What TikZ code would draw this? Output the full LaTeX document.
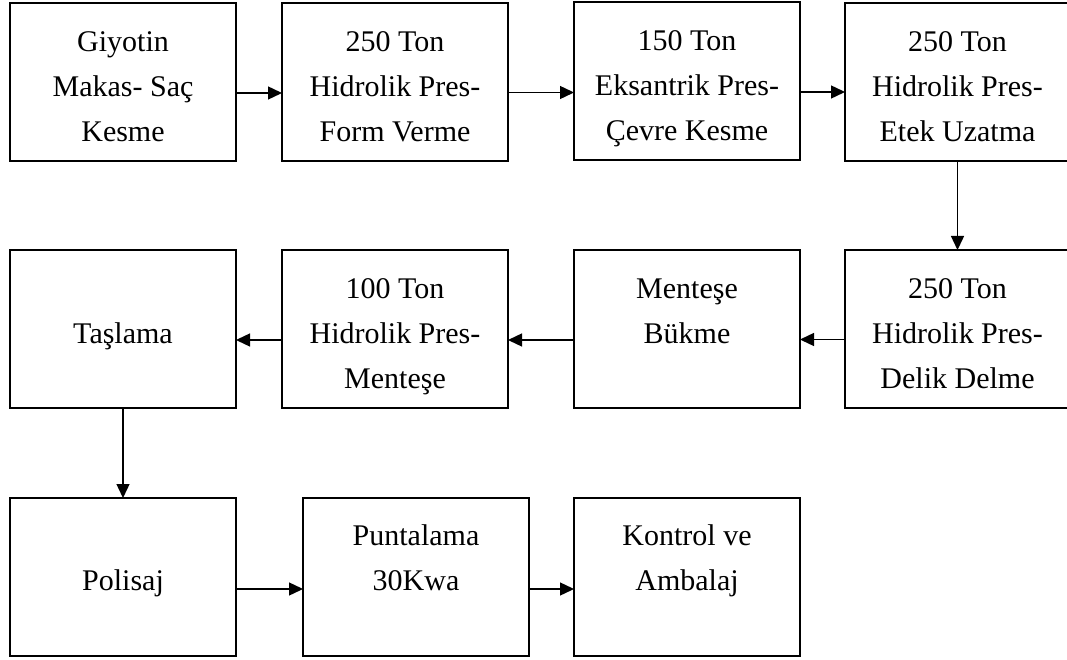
\documentclass[tikz,border=0pt]{standalone}
\usepackage{fontspec}
\setmainfont{Liberation Serif}
\usetikzlibrary{arrows.meta}

\tikzset{
  stage/.style={draw, line width=1.8pt, inner sep=0pt, outer sep=0pt,
    anchor=north west, minimum width=#1, minimum height=158pt},
  stage/.default=226pt,
  lbl/.style={align=center, inner sep=0pt, outer sep=0pt, anchor=north,
    font=\fontsize{30}{45}\selectfont},
  conn/.style={line width=1.4pt, -{Triangle[length=14pt,width=13pt]}}
}

\begin{document}
\begin{tikzpicture}[x=1pt,y=-1pt]
\clip (0,0) rectangle (1067,660);
\fill[white] (0,0) rectangle (1067,660);

% first row
\node[stage] (b1) at (10,3) {};
\node[stage] (b2) at (282,3) {};
\node[stage] (b3) at (574,2) {};
\node[stage=225pt] (b4) at (845,3) {};
% second row
\node[stage] (b5) at (10,250) {};
\node[stage] (b6) at (282,250) {};
\node[stage] (b7) at (574,250) {};
\node[stage=225pt] (b8) at (845,250) {};
% third row
\node[stage] (b9) at (10,498) {};
\node[stage] (b10) at (303,498) {};
\node[stage] (b11) at (574,498) {};

% labels
\node[lbl] (t1) at ([yshift=-17pt]b1.north) {\strut Giyotin\\Makas- Saç\\Kesme};
\node[lbl] (t2) at ([yshift=-17pt]b2.north) {\strut 250 Ton\\Hidrolik Pres-\\Form Verme};
\node[lbl] (t3) at ([yshift=-17pt]b3.north) {\strut 150 Ton\\Eksantrik Pres-\\Çevre Kesme};
\node[lbl] (t4) at ([yshift=-17pt]b4.north) {\strut 250 Ton\\Hidrolik Pres-\\Etek Uzatma};
\node[lbl] (t5) at ([yshift=-16.5pt]b5.north) {\strut\\Taşlama};
\node[lbl] (t6) at ([yshift=-16.5pt]b6.north) {\strut 100 Ton\\Hidrolik Pres-\\Menteşe};
\node[lbl] (t7) at ([yshift=-16.5pt]b7.north) {\strut Menteşe\\Bükme};
\node[lbl] (t8) at ([yshift=-16.5pt]b8.north) {\strut 250 Ton\\Hidrolik Pres-\\Delik Delme};
\node[lbl] (t9) at ([yshift=-16pt]b9.north) {\strut\\Polisaj};
\node[lbl] (t10) at ([yshift=-16pt]b10.north) {\strut Puntalama\\30Kwa};
\node[lbl] (t11) at ([yshift=-16pt]b11.north) {\strut Kontrol ve\\Ambalaj};

% flow
\draw[conn] ([yshift=-11pt]b1.east) -- ([yshift=-11pt]b1.east -| b2.west);
\draw[conn] ([yshift=-10.5pt]b2.east) -- ([yshift=-10.5pt]b2.east -| b3.west);
\draw[conn] ([yshift=-11pt]b3.east) -- ([yshift=-11pt]b3.east -| b4.west);
\draw[conn] (b4.south) -- (b4.south |- b8.north);
\draw[conn] ([yshift=-10.5pt]b8.west) -- ([yshift=-10.5pt]b8.west -| b7.east);
\draw[conn] ([yshift=-11pt]b7.west) -- ([yshift=-11pt]b7.west -| b6.east);
\draw[conn] ([yshift=-11pt]b6.west) -- ([yshift=-11pt]b6.west -| b5.east);
\draw[conn] (b5.south) -- (b5.south |- b9.north);
\draw[conn] ([yshift=-12pt]b9.east) -- ([yshift=-12pt]b9.east -| b10.west);
\draw[conn] ([yshift=-12pt]b10.east) -- ([yshift=-12pt]b10.east -| b11.west);
\end{tikzpicture}
\end{document}
